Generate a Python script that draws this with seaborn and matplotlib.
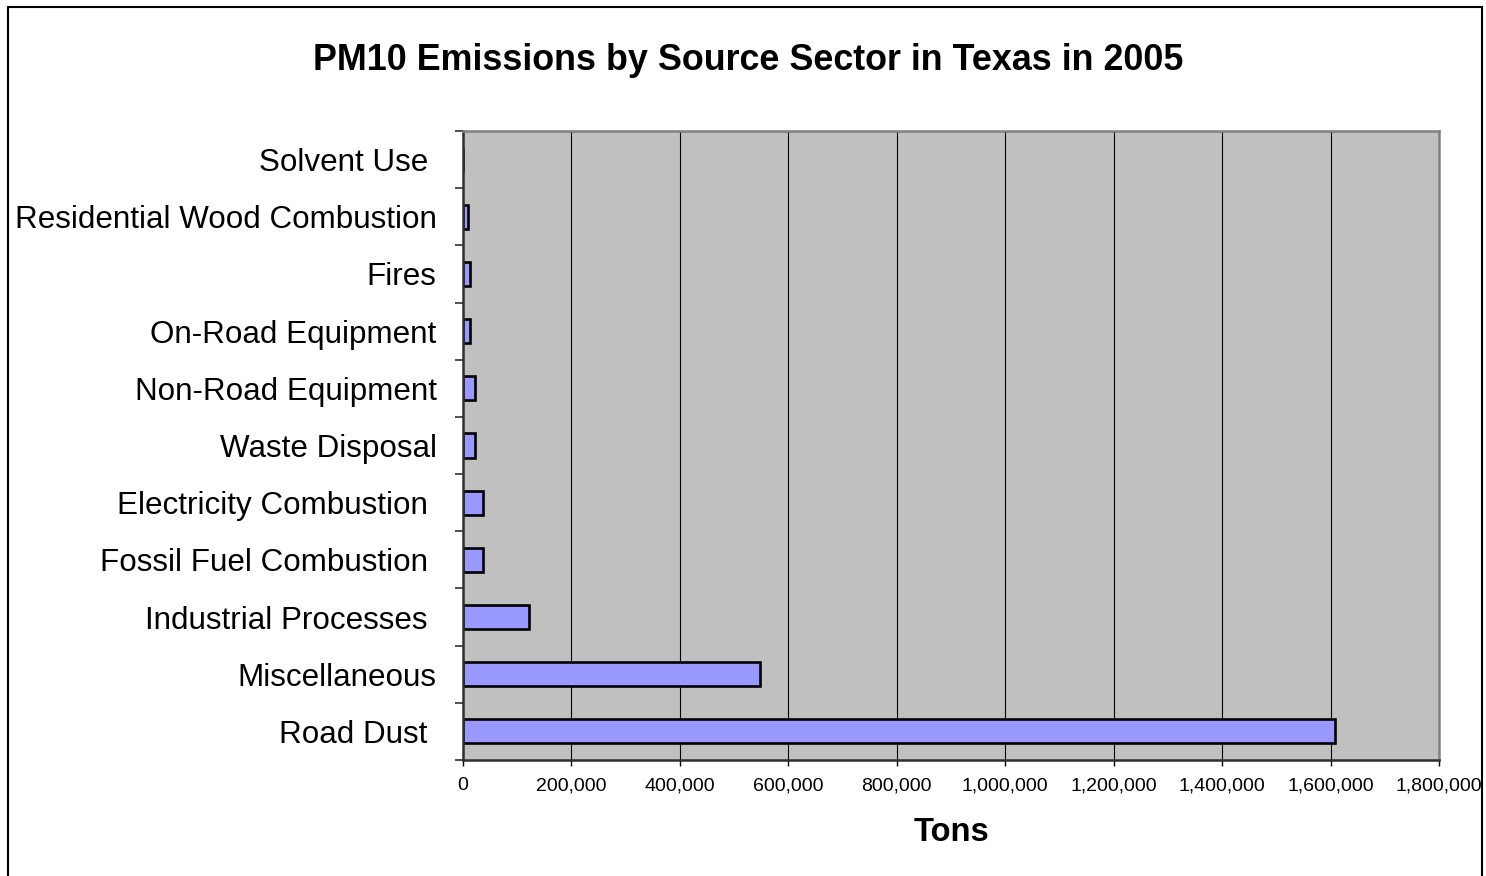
import matplotlib
matplotlib.use("Agg")
import matplotlib.pyplot as plt
from matplotlib.patches import Rectangle
from matplotlib.ticker import FuncFormatter, MultipleLocator
import pandas as pd
import seaborn as sns

# PM10 emissions (tons) by source sector, Texas 2005
sectors = [
    "Solvent Use ",
    "Residential Wood Combustion",
    "Fires",
    "On-Road Equipment",
    "Non-Road Equipment",
    "Waste Disposal",
    "Electricity Combustion ",
    "Fossil Fuel Combustion ",
    "Industrial Processes ",
    "Miscellaneous",
    "Road Dust ",
]
tons = [0, 9000, 13500, 13500, 22000, 22000, 36000, 36000, 121000, 547000, 1608000]

x_ticks = [0, 200000, 400000, 600000, 800000, 1000000, 1200000, 1400000, 1600000, 1800000]

df = pd.DataFrame({"sector": sectors, "tons": tons})

sns.set_theme(style="white")
plt.rcParams["font.family"] = ["Liberation Sans", "DejaVu Sans"]

fig = plt.figure(figsize=(14.86, 8.76), dpi=100)
ax = fig.add_axes([463 / 1486, 1 - 760 / 876, (1439 - 463) / 1486, (760 - 131) / 876])

sns.barplot(
    data=df, x="tons", y="sector", orient="h", order=sectors,
    color="#9999FF", saturation=1, width=0.42,
    edgecolor="black", linewidth=1.9, ax=ax,
)

ax.set_facecolor("#C0C0C0")
ax.set_xlim(0, 1800000)
ax.set_ylim(len(sectors) - 0.5, -0.5)
ax.set_xticks(x_ticks)
ax.xaxis.set_major_formatter(FuncFormatter(lambda v, p: f"{int(v):,}"))
ax.grid(axis="x", color="black", linewidth=0.8)
ax.grid(axis="y", visible=False)
ax.set_axisbelow(True)

# category labels centred, tick marks at category boundaries
ax.yaxis.set_minor_locator(MultipleLocator(1, offset=0.5))
ax.tick_params(axis="y", which="major", length=0, pad=19, labelsize=22.6, labelcolor="black")
ax.tick_params(axis="y", which="minor", left=True, length=6, width=1.3, color="#404040")
ax.tick_params(axis="x", which="major", bottom=True, length=4.5, width=1.0, color="black",
               pad=8, labelsize=14, labelcolor="black")

ax.set_ylabel("")
ax.set_xlabel("Tons", fontsize=23.5, fontweight="bold", labelpad=16, color="black")

for side in ("top", "right"):
    ax.spines[side].set_color("#808080")
    ax.spines[side].set_linewidth(1.8)
for side in ("left", "bottom"):
    ax.spines[side].set_color("#303030")
    ax.spines[side].set_linewidth(1.8)

fig.text(748 / 1486, 1 - 57 / 876, "PM10 Emissions by Source Sector in Texas in 2005",
         ha="center", va="center_baseline", fontsize=25.8, fontweight="bold", color="black")

# chart-area frame
fig.patches.append(Rectangle((8 / 1486, -0.05), (1482 - 8) / 1486, 1.05 - 7 / 876,
                             transform=fig.transFigure, fill=False,
                             edgecolor="black", linewidth=1.5))

fig.savefig("out.png", dpi=100)
